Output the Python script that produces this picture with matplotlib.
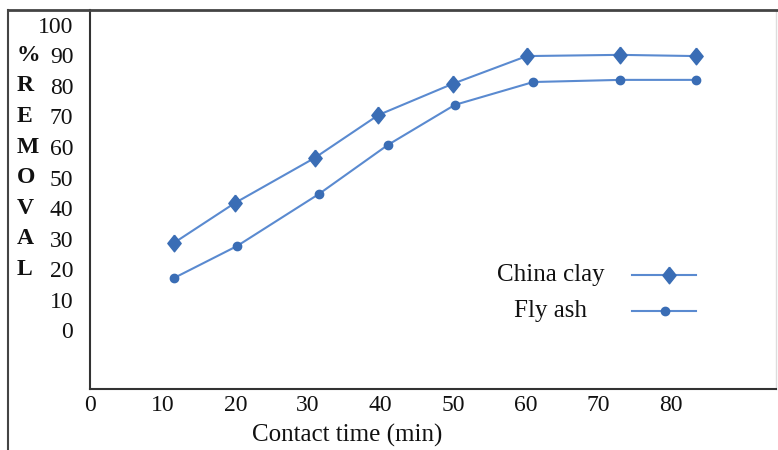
import matplotlib
matplotlib.use("Agg")
import matplotlib.pyplot as plt
from matplotlib.lines import Line2D
import matplotlib.transforms as mtransforms

# removal (%) against contact time (min)
china_clay_time = [11.5, 19.9, 30.9, 39.7, 49.9, 60.1, 72.9, 83.4]
china_clay_removal = [28.5, 41.6, 56.4, 70.5, 80.7, 89.8, 90.2, 89.8]
fly_ash_time = [11.5, 20.2, 31.5, 41.0, 50.2, 61.0, 73.0, 83.4]
fly_ash_removal = [17.0, 27.5, 44.6, 60.7, 73.8, 81.3, 82.0, 82.0]

x_ticks = [0, 10, 20, 30, 40, 50, 60, 70, 80]
y_ticks = [0, 10, 20, 30, 40, 50, 60, 70, 80, 90, 100]
y_letters = {90: "%", 80: "R", 70: "E", 60: "M", 50: "O", 40: "V", 30: "A", 20: "L"}

W, H = 778, 450
line_col = "#5a8ad0"
mark_col = "#3a6db5"
text_col = "#111111"
font = "Liberation Serif"
fs = 17

# slightly squat diamond like the office-chart default
diamond = [(0, 1), (0.8, 0), (0, -1), (-0.8, 0), (0, 1)]

fig = plt.figure(figsize=(W / 100, H / 100), dpi=100)
fig.patch.set_facecolor("white")

# outer frame of the chart area
fig.add_artist(Line2D([8 / W, 8 / W], [0, 1 - 10 / H], color="#444444", lw=1.5))
fig.add_artist(Line2D([8 / W, 1], [1 - 10 / H, 1 - 10 / H], color="#444444", lw=2))

ax = fig.add_axes([90 / W, (H - 389) / H, (776 - 90) / W, (389 - 10) / H])
ax.set_xlim(0, 94.4)
ax.set_ylim(-19.3, 104.9)

ax.plot(china_clay_time, china_clay_removal, color=line_col, lw=1.5,
        marker=diamond, markersize=12, markerfacecolor=mark_col, markeredgecolor=mark_col,
        label="China clay")
ax.plot(fly_ash_time, fly_ash_removal, color=line_col, lw=1.5,
        marker="o", markersize=6, markerfacecolor=mark_col, markeredgecolor=mark_col,
        label="Fly ash")

for side in ["left", "bottom"]:
    ax.spines[side].set_color("#333333")
    ax.spines[side].set_linewidth(1.5)
ax.spines["top"].set_visible(False)
ax.spines["right"].set_color("#dddddd")
ax.spines["right"].set_linewidth(1)

ax.set_xticks(x_ticks)
ax.set_xticklabels([str(t) for t in x_ticks], fontfamily=font, fontsize=fs, color=text_col)
ax.set_yticks(y_ticks)
ax.set_yticklabels([str(t) for t in y_ticks], fontfamily=font, fontsize=fs, color=text_col)
ax.tick_params(axis="x", length=0, pad=4)
ax.tick_params(axis="y", length=0, pad=12)

# vertical "%REMOVAL" spelled beside the tick labels
trans = mtransforms.blended_transform_factory(fig.transFigure, ax.transData)
for val, letter in y_letters.items():
    ax.text(17 / W, val, letter, transform=trans, ha="left", va="center",
            fontfamily=font, fontsize=fs, fontweight="bold", color=text_col,
            clip_on=False)

fig.text(347 / W, 1 - 435 / H, "Contact time (min)", ha="center", va="center",
         fontfamily=font, fontsize=fs + 1, color=text_col)

# legend drawn by hand: text then sample line with marker
leg_items = [
    ("China clay", 275, diamond, 12, 669),
    ("Fly ash", 311, "o", 6, 665),
]
for label, py, mk, ms, mx in leg_items:
    fy = 1 - py / H
    fig.text(551 / W, fy, label, ha="center", va="center",
             fontfamily=font, fontsize=fs + 1, color=text_col)
    fig.add_artist(Line2D([632 / W, 696 / W], [fy, fy], color=line_col, lw=1.5))
    fig.add_artist(Line2D([mx / W], [fy], marker=mk, markersize=ms,
                          markerfacecolor=mark_col, markeredgecolor=mark_col, lw=0))

fig.savefig("out.png", dpi=100)
